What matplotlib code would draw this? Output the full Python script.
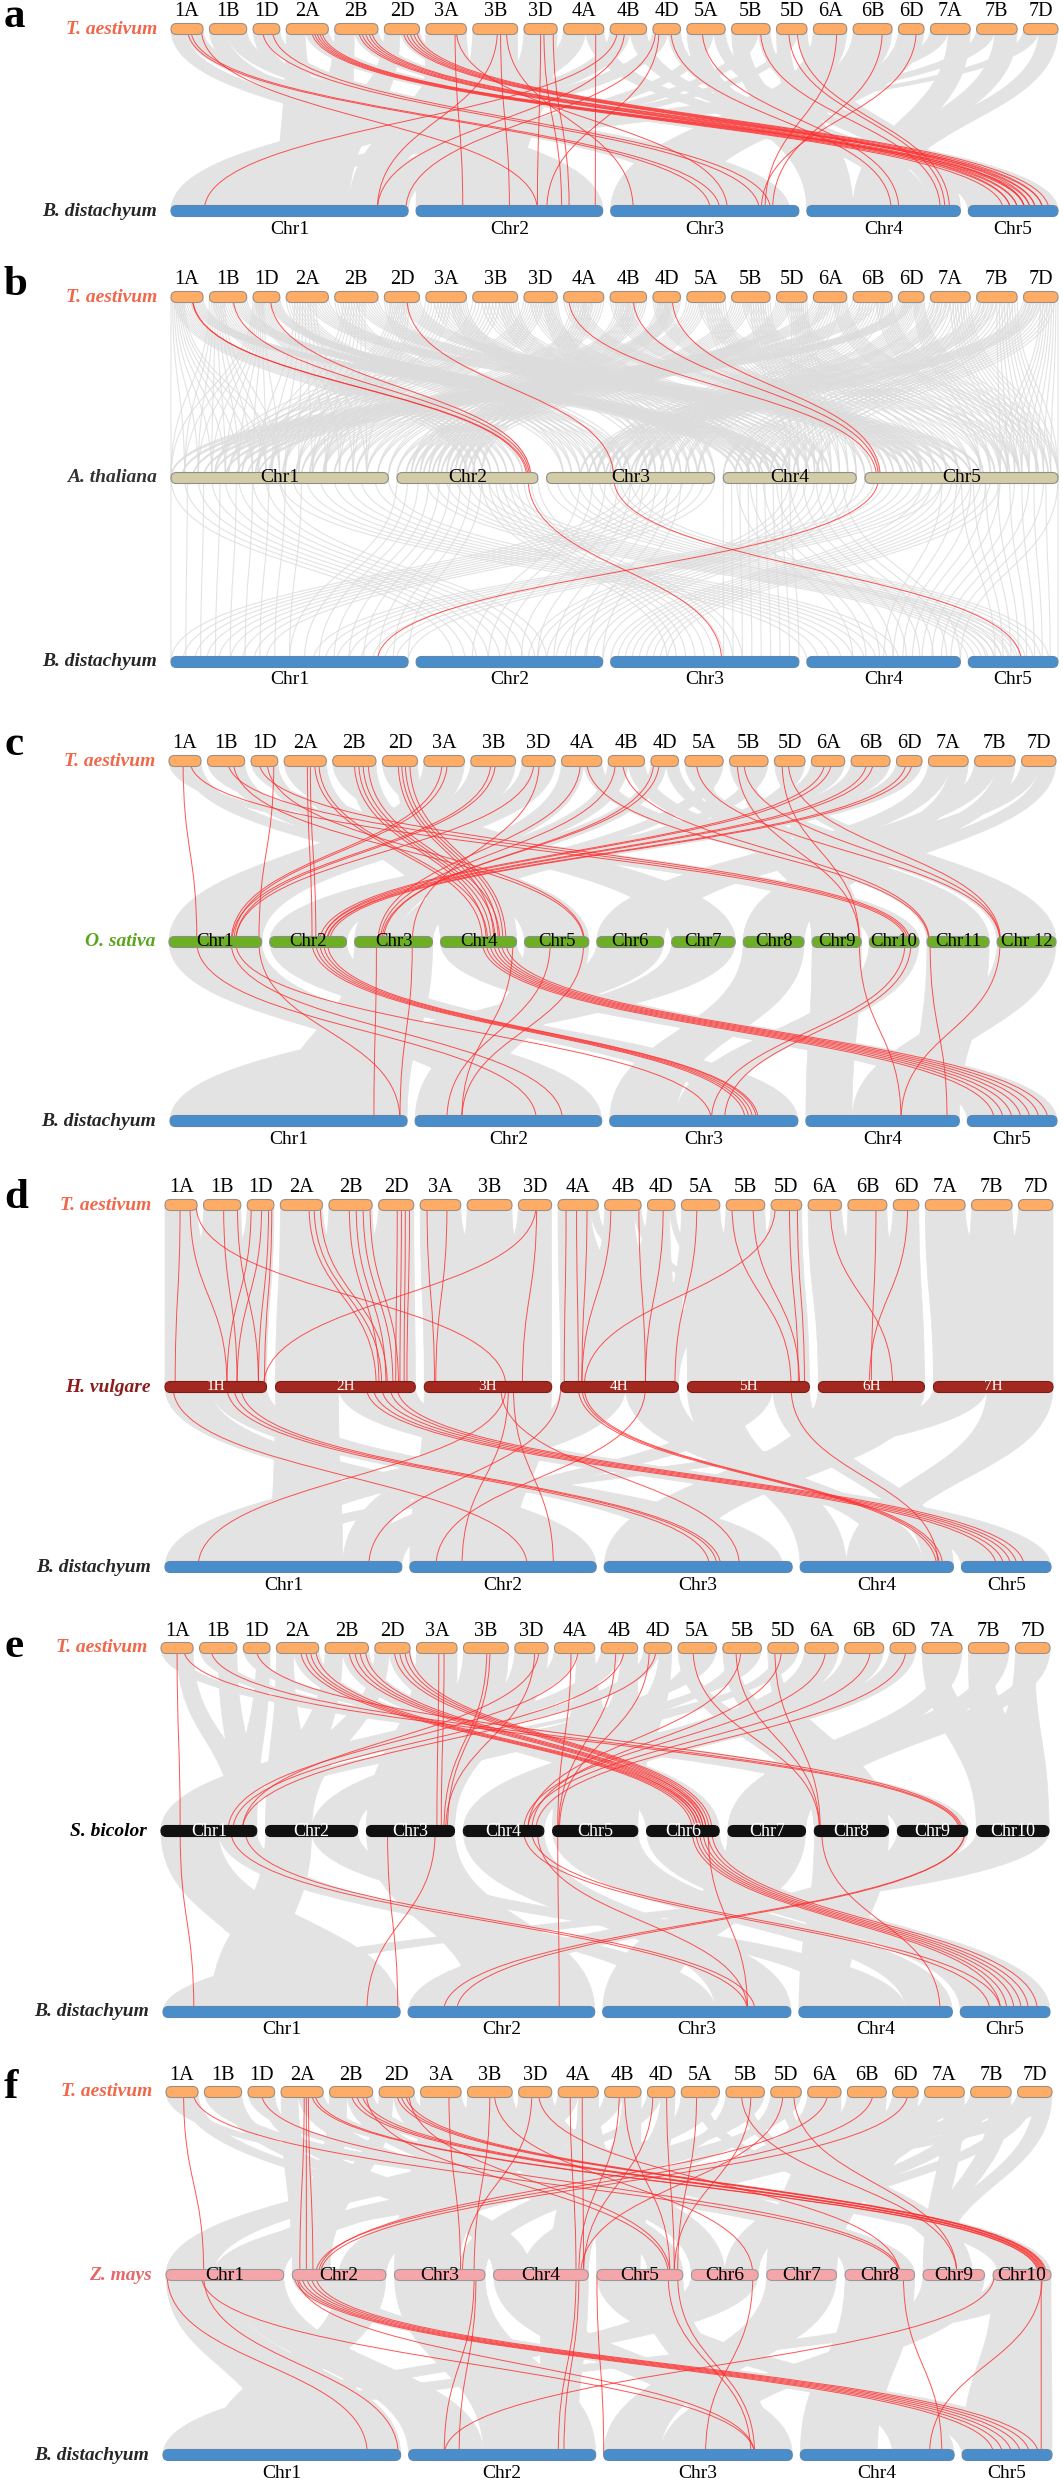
import numpy as np
import matplotlib.pyplot as plt
from matplotlib.path import Path
from matplotlib.patches import PathPatch, FancyBboxPatch

plt.rcParams['font.family'] = ['Liberation Serif', 'DejaVu Serif']

W, H = 1063, 2481

# chromosome names and lengths (Mb)
wheat_chr = ['1A', '1B', '1D', '2A', '2B', '2D', '3A', '3B', '3D', '4A', '4B', '4D',
             '5A', '5B', '5D', '6A', '6B', '6D', '7A', '7B', '7D']
wheat_len = [594, 690, 495, 781, 801, 651, 751, 830, 615, 745, 674, 510,
             710, 713, 566, 618, 721, 474, 737, 751, 639]
bd_chr = ['Chr1', 'Chr2', 'Chr3', 'Chr4', 'Chr5']
bd_len = [75.1, 59.1, 59.6, 48.6, 28.4]
at_chr = ['Chr1', 'Chr2', 'Chr3', 'Chr4', 'Chr5']
at_len = [30.4, 19.7, 23.5, 18.6, 27.0]
os_chr = ['Chr1', 'Chr2', 'Chr3', 'Chr4', 'Chr5', 'Chr6', 'Chr7', 'Chr8', 'Chr9',
          'Chr10', 'Chr11', 'Chr 12']
os_len = [43.3, 35.9, 36.4, 35.5, 30.0, 31.2, 29.7, 28.4, 23.0, 23.2, 29.0, 27.5]
hv_chr = ['1H', '2H', '3H', '4H', '5H', '6H', '7H']
hv_len = [558, 768, 700, 647, 670, 583, 657]
sb_chr = ['Chr1', 'Chr2', 'Chr3', 'Chr4', 'Chr5', 'Chr6', 'Chr7', 'Chr8', 'Chr9', 'Chr10']
sb_len = [80.9, 77.7, 74.4, 68.0, 71.9, 61.3, 65.5, 62.7, 59.4, 61.2]
zm_chr = ['Chr1', 'Chr2', 'Chr3', 'Chr4', 'Chr5', 'Chr6', 'Chr7', 'Chr8', 'Chr9', 'Chr10']
zm_len = [307, 244, 236, 247, 224, 174, 182, 181, 160, 151]

# grey synteny blocks: (chrA, fromA, toA, chrB, fromB, toB); wheat '1' = 1A, 1B, 1D
wb_grey = [('1', 0.0, 0.45, 2, 0.55, 1.0), ('1', 0.45, 1.0, 3, 0.45, 0.95),
           ('2', 0.0, 0.45, 1, 0.45, 0.75), ('2', 0.45, 1.0, 5, 0.0, 1.0),
           ('3', 0.0, 1.0, 2, 0.0, 0.55), ('3', 0.3, 0.6, 1, 0.75, 0.9),
           ('4', 0.0, 0.55, 1, 0.0, 0.4), ('4', 0.55, 1.0, 4, 0.55, 0.8),
           ('5', 0.0, 0.4, 4, 0.0, 0.3), ('5', 0.4, 0.7, 1, 0.8, 1.0), ('5', 0.7, 1.0, 4, 0.8, 1.0),
           ('6', 0.0, 1.0, 3, 0.0, 0.45),
           ('7', 0.0, 0.45, 1, 0.3, 0.45), ('7', 0.45, 1.0, 4, 0.3, 0.55)]
wa_grey = [('1', 0.1, 0.6, 2, 0.5, 0.95), ('1', 0.6, 1.0, 4, 0.1, 0.5), ('1', 0.0, 0.4, 1, 0.0, 0.5),
           ('2', 0.0, 0.5, 3, 0.1, 0.5), ('2', 0.5, 1.0, 5, 0.2, 0.6), ('2', 0.2, 0.7, 1, 0.4, 0.9),
           ('3', 0.0, 0.6, 1, 0.2, 0.7), ('3', 0.6, 1.0, 3, 0.6, 1.0), ('3', 0.2, 0.8, 4, 0.2, 0.8),
           ('4', 0.0, 0.5, 5, 0.0, 0.3), ('4', 0.5, 1.0, 1, 0.6, 1.0), ('4', 0.2, 0.7, 2, 0.1, 0.6),
           ('5', 0.0, 0.5, 2, 0.0, 0.5), ('5', 0.5, 1.0, 4, 0.5, 1.0), ('5', 0.3, 0.8, 5, 0.3, 0.8),
           ('6', 0.0, 0.6, 1, 0.0, 0.4), ('6', 0.6, 1.0, 5, 0.6, 1.0), ('6', 0.2, 0.8, 3, 0.3, 0.9),
           ('7', 0.0, 0.5, 3, 0.2, 0.6), ('7', 0.5, 1.0, 5, 0.7, 1.0), ('7', 0.1, 0.9, 4, 0.0, 0.7)]
ab_grey = [(1, 0.0, 0.5, 2, 0.2, 0.7), (1, 0.5, 1.0, 4, 0.0, 0.6), (1, 0.0, 0.6, 1, 0.0, 0.5),
           (2, 0.0, 0.6, 1, 0.5, 1.0), (2, 0.6, 1.0, 3, 0.3, 0.7), (2, 0.2, 0.8, 5, 0.0, 0.6),
           (3, 0.0, 0.5, 5, 0.2, 0.9), (3, 0.5, 1.0, 1, 0.0, 0.4), (3, 0.2, 0.8, 2, 0.3, 1.0),
           (4, 0.0, 0.5, 3, 0.6, 1.0), (4, 0.5, 1.0, 2, 0.6, 1.0), (4, 0.1, 0.9, 4, 0.3, 1.0),
           (5, 0.0, 0.4, 1, 0.6, 1.0), (5, 0.4, 1.0, 4, 0.5, 1.0), (5, 0.3, 0.7, 3, 0.0, 0.3),
           (5, 0.5, 1.0, 5, 0.3, 1.0)]
wo_grey = [('1', 0.0, 0.45, 10, 0.0, 1.0), ('1', 0.45, 1.0, 5, 0.0, 1.0),
           ('2', 0.0, 0.4, 7, 0.0, 1.0), ('2', 0.4, 1.0, 4, 0.0, 1.0),
           ('3', 0.0, 1.0, 1, 0.0, 1.0),
           ('4', 0.0, 0.55, 3, 0.0, 0.55), ('4', 0.55, 1.0, 11, 0.0, 1.0),
           ('5', 0.0, 0.3, 12, 0.0, 1.0), ('5', 0.3, 0.6, 9, 0.0, 1.0), ('5', 0.6, 1.0, 3, 0.55, 1.0),
           ('6', 0.0, 1.0, 2, 0.0, 1.0),
           ('7', 0.0, 0.55, 6, 0.0, 1.0), ('7', 0.55, 1.0, 8, 0.0, 1.0)]
ob_grey = [(1, 0.0, 1.0, 2, 0.35, 1.0), (5, 0.0, 1.0, 2, 0.0, 0.35), (2, 0.0, 1.0, 3, 0.6, 1.0),
           (3, 0.0, 1.0, 1, 0.45, 1.0), (4, 0.0, 1.0, 5, 0.0, 1.0), (6, 0.0, 1.0, 1, 0.0, 0.2),
           (7, 0.0, 1.0, 1, 0.2, 0.45), (8, 0.0, 1.0, 3, 0.0, 0.35), (9, 0.0, 1.0, 4, 0.0, 0.3),
           (10, 0.0, 1.0, 3, 0.35, 0.6), (11, 0.0, 1.0, 4, 0.7, 1.0), (12, 0.0, 1.0, 4, 0.3, 0.7)]
wh_grey = [('1', 0.0, 1.0, 1, 0.0, 1.0), ('2', 0.0, 1.0, 2, 0.0, 1.0), ('3', 0.0, 1.0, 3, 0.0, 1.0),
           ('4', 0.0, 0.8, 4, 0.0, 1.0), ('4', 0.8, 1.0, 5, 0.85, 1.0),
           ('5', 0.0, 1.0, 5, 0.0, 1.0), ('5', 0.0, 0.15, 4, 0.85, 1.0),
           ('6', 0.0, 1.0, 6, 0.0, 1.0), ('7', 0.0, 1.0, 7, 0.0, 1.0)]
hb_grey = [(1, 0.0, 0.45, 2, 0.55, 1.0), (1, 0.45, 1.0, 3, 0.45, 0.95),
           (2, 0.0, 0.45, 1, 0.45, 0.75), (2, 0.45, 1.0, 5, 0.0, 1.0),
           (3, 0.0, 1.0, 2, 0.0, 0.55), (3, 0.3, 0.6, 1, 0.75, 0.9),
           (4, 0.0, 0.55, 1, 0.0, 0.4), (4, 0.55, 1.0, 4, 0.55, 0.8),
           (5, 0.0, 0.4, 4, 0.0, 0.3), (5, 0.4, 0.7, 1, 0.8, 1.0), (5, 0.7, 1.0, 4, 0.8, 1.0),
           (6, 0.0, 1.0, 3, 0.0, 0.45),
           (7, 0.0, 0.45, 1, 0.3, 0.45), (7, 0.45, 1.0, 4, 0.3, 0.55)]
ws_grey = [('1', 0.0, 0.5, 9, 0.0, 1.0), ('1', 0.5, 1.0, 1, 0.75, 1.0),
           ('2', 0.0, 0.4, 2, 0.0, 0.5), ('2', 0.4, 1.0, 6, 0.0, 1.0),
           ('3', 0.0, 1.0, 3, 0.0, 1.0),
           ('4', 0.0, 0.55, 1, 0.0, 0.6), ('4', 0.55, 1.0, 5, 0.0, 1.0),
           ('5', 0.0, 0.3, 8, 0.0, 1.0), ('5', 0.3, 0.6, 2, 0.5, 1.0), ('5', 0.6, 1.0, 1, 0.6, 0.75),
           ('6', 0.0, 1.0, 4, 0.0, 1.0),
           ('7', 0.0, 0.55, 10, 0.0, 1.0), ('7', 0.55, 1.0, 7, 0.0, 1.0)]
sb_grey = [(1, 0.0, 0.6, 1, 0.45, 1.0), (1, 0.6, 1.0, 3, 0.35, 0.6),
           (2, 0.0, 0.5, 1, 0.2, 0.45), (2, 0.5, 1.0, 4, 0.3, 0.7),
           (3, 0.0, 1.0, 2, 0.35, 1.0), (4, 0.0, 1.0, 3, 0.6, 1.0), (5, 0.0, 1.0, 4, 0.7, 1.0),
           (6, 0.0, 1.0, 5, 0.0, 1.0), (7, 0.0, 1.0, 3, 0.0, 0.35), (8, 0.0, 1.0, 4, 0.0, 0.3),
           (9, 0.0, 1.0, 2, 0.0, 0.35), (10, 0.0, 1.0, 1, 0.0, 0.2)]
wz_grey = [('1', 0.0, 0.5, 8, 0.3, 1.0), ('1', 0.5, 1.0, 4, 0.0, 0.4),
           ('2', 0.0, 0.4, 2, 0.0, 0.4), ('2', 0.4, 1.0, 10, 0.1, 1.0), ('2', 0.4, 1.0, 5, 0.6, 1.0),
           ('3', 0.0, 1.0, 3, 0.0, 0.7), ('3', 0.0, 1.0, 8, 0.0, 0.3), ('3', 0.0, 0.5, 6, 0.0, 0.5),
           ('4', 0.0, 0.5, 1, 0.0, 0.4), ('4', 0.5, 1.0, 4, 0.6, 1.0), ('4', 0.5, 1.0, 5, 0.0, 0.5),
           ('5', 0.0, 0.3, 3, 0.7, 1.0), ('5', 0.3, 0.6, 2, 0.5, 1.0), ('5', 0.3, 0.6, 9, 0.3, 0.8),
           ('5', 0.6, 1.0, 1, 0.6, 1.0),
           ('6', 0.0, 1.0, 4, 0.3, 0.6), ('6', 0.0, 1.0, 7, 0.0, 1.0),
           ('7', 0.0, 0.5, 6, 0.5, 1.0), ('7', 0.5, 1.0, 9, 0.0, 0.3), ('7', 0.0, 1.0, 1, 0.4, 0.6)]
zb_grey = [(1, 0.0, 0.5, 1, 0.45, 1.0), (1, 0.5, 1.0, 2, 0.0, 0.4),
           (2, 0.0, 0.5, 5, 0.0, 1.0), (2, 0.5, 1.0, 1, 0.2, 0.45),
           (3, 0.0, 1.0, 2, 0.4, 1.0), (4, 0.0, 0.5, 3, 0.6, 1.0), (4, 0.5, 1.0, 2, 0.7, 0.9),
           (5, 0.0, 0.5, 4, 0.6, 1.0), (5, 0.5, 1.0, 3, 0.6, 0.9),
           (6, 0.0, 1.0, 1, 0.0, 0.2), (7, 0.0, 1.0, 3, 0.0, 0.3), (8, 0.0, 1.0, 4, 0.0, 0.5),
           (9, 0.0, 1.0, 3, 0.3, 0.6), (10, 0.0, 1.0, 5, 0.0, 1.0), (10, 0.0, 1.0, 1, 0.0, 0.3)]

# highlighted gene pairs: (chrA, posA, chrB, posB), positions as fraction of chromosome
wb_red = [('1A', 0.52, 3, 0.53), ('1A', 0.62, 3, 0.58), ('1A', 0.95, 2, 0.65),
          ('1D', 0.35, 3, 0.79), ('1D', 0.72, 3, 0.85),
          ('2A', 0.60, 5, 0.39), ('2A', 0.66, 5, 0.47), ('2A', 0.72, 5, 0.55), ('2A', 0.78, 5, 0.63),
          ('2A', 0.84, 5, 0.69),
          ('2B', 0.55, 5, 0.47), ('2B', 0.62, 5, 0.55), ('2B', 0.70, 5, 0.63), ('2B', 0.78, 5, 0.75),
          ('2B', 0.85, 5, 0.83),
          ('2D', 0.53, 5, 0.63), ('2D', 0.62, 5, 0.69), ('2D', 0.72, 5, 0.75), ('2D', 0.82, 5, 0.83),
          ('2D', 0.92, 5, 0.90),
          ('3A', 0.72, 2, 0.25), ('3A', 0.75, 3, 0.62),
          ('3B', 0.55, 1, 0.87), ('3B', 0.62, 2, 0.50), ('3B', 0.75, 3, 0.12),
          ('3D', 0.50, 2, 0.65), ('3D', 0.60, 2, 0.78), ('3D', 0.88, 2, 0.82),
          ('4A', 0.80, 2, 0.96),
          ('4B', 0.20, 1, 0.14), ('4B', 0.40, 1, 0.87),
          ('4D', 0.10, 1, 0.99), ('4D', 0.22, 2, 0.70), ('4D', 0.65, 4, 0.55),
          ('5A', 0.40, 4, 0.60), ('5B', 0.75, 4, 0.87),
          ('5D', 0.40, 4, 0.90), ('5D', 0.68, 4, 0.93),
          ('6A', 0.70, 3, 0.82), ('6B', 0.75, 3, 0.86), ('6D', 0.70, 3, 0.80)]
wa_red = [('1A', 0.66, 2, 0.92), ('1A', 0.68, 2, 0.93), ('1B', 0.64, 2, 0.94), ('1D', 0.65, 2, 0.95),
          ('2D', 0.64, 3, 0.40), ('4A', 0.13, 5, 0.06), ('4B', 0.63, 5, 0.07), ('4D', 0.70, 5, 0.08)]
ab_red = [(2, 0.93, 3, 0.59), (3, 0.40, 5, 0.59), (5, 0.07, 1, 0.87)]
wo_red = [('1A', 0.44, 1, 0.30), ('1A', 0.66, 10, 0.74), ('1B', 0.55, 10, 0.78), ('1B', 0.70, 5, 0.92),
          ('1D', 0.30, 10, 0.82), ('1D', 0.60, 5, 0.93), ('1D', 0.85, 1, 0.97),
          ('2A', 0.55, 2, 0.55), ('2A', 0.62, 2, 0.60), ('2A', 0.72, 4, 0.55), ('2A', 0.82, 4, 0.62),
          ('2B', 0.50, 4, 0.60), ('2B', 0.60, 4, 0.66), ('2B', 0.70, 4, 0.72), ('2B', 0.82, 4, 0.78),
          ('2D', 0.45, 4, 0.70), ('2D', 0.55, 4, 0.76), ('2D', 0.65, 4, 0.82), ('2D', 0.78, 4, 0.86),
          ('3A', 0.45, 1, 0.67), ('3A', 0.58, 1, 0.70), ('3B', 0.45, 1, 0.68), ('3B', 0.55, 1, 0.72),
          ('3D', 0.36, 1, 0.72), ('3D', 0.52, 3, 0.74),
          ('4A', 0.47, 3, 0.30), ('4A', 0.63, 11, 0.03), ('4B', 0.20, 3, 0.33), ('4B', 0.40, 11, 0.04),
          ('4D', 0.10, 3, 0.37), ('4D', 0.30, 3, 0.35),
          ('5A', 0.30, 12, 0.05), ('5B', 0.20, 9, 0.96), ('5B', 0.37, 12, 0.05),
          ('5D', 0.25, 9, 0.96), ('5D', 0.45, 12, 0.06),
          ('6A', 0.40, 2, 0.65), ('6A', 0.60, 2, 0.70), ('6B', 0.40, 2, 0.70), ('6B', 0.57, 2, 0.75),
          ('6D', 0.38, 2, 0.74), ('6D', 0.62, 2, 0.78)]
ob_red = [(1, 0.30, 2, 0.65), (1, 0.67, 2, 0.79), (1, 0.72, 3, 0.54), (1, 0.97, 1, 0.97),
          (2, 0.55, 3, 0.72), (2, 0.60, 3, 0.74), (2, 0.65, 3, 0.76), (2, 0.70, 3, 0.78), (2, 0.75, 3, 0.79),
          (3, 0.28, 1, 0.86), (3, 0.74, 1, 0.97),
          (4, 0.55, 5, 0.30), (4, 0.60, 5, 0.40), (4, 0.65, 5, 0.50), (4, 0.70, 5, 0.60),
          (4, 0.75, 5, 0.70), (4, 0.80, 5, 0.80), (4, 0.86, 5, 0.90), (4, 0.95, 2, 0.25),
          (5, 0.40, 2, 0.17), (5, 0.92, 2, 0.25),
          (9, 0.96, 4, 0.62), (10, 0.72, 3, 0.54), (10, 0.84, 3, 0.61), (11, 0.05, 4, 0.92), (12, 0.05, 4, 0.62)]
wh_red = [('1A', 0.47, 1, 0.10), ('1A', 0.78, 1, 0.61), ('1A', 0.97, 3, 0.64),
          ('1B', 0.54, 1, 0.71), ('1B', 0.91, 1, 0.92),
          ('1D', 0.15, 1, 0.61), ('1D', 0.54, 1, 0.71), ('1D', 0.80, 1, 0.92), ('1D', 0.92, 1, 0.98),
          ('2A', 0.68, 2, 0.72), ('2A', 0.80, 2, 0.76), ('2A', 0.95, 2, 0.80),
          ('2B', 0.47, 2, 0.74), ('2B', 0.63, 2, 0.79), ('2B', 0.79, 2, 0.84), ('2B', 0.95, 2, 0.88),
          ('2D', 0.53, 2, 0.86), ('2D', 0.65, 2, 0.89), ('2D', 0.76, 2, 0.92), ('2D', 0.88, 2, 0.94),
          ('3A', 0.17, 3, 0.08), ('3A', 0.66, 3, 0.09),
          ('3D', 0.53, 1, 0.97), ('3D', 0.55, 3, 0.77),
          ('4A', 0.20, 4, 0.03), ('4A', 0.46, 4, 0.15), ('4A', 0.72, 4, 0.18),
          ('4B', 0.17, 4, 0.18), ('4B', 0.94, 4, 0.72), ('4D', 0.57, 4, 0.72),
          ('5A', 0.40, 4, 0.97), ('5D', 0.14, 4, 0.20),
          ('5B', 0.15, 5, 0.85), ('5B', 0.70, 5, 0.92), ('5D', 0.60, 5, 0.91), ('5D', 0.86, 5, 0.96),
          ('6A', 0.66, 6, 0.70), ('6B', 0.72, 6, 0.50), ('6D', 0.56, 6, 0.48)]
hb_red = [(1, 0.08, 2, 0.63), (1, 0.61, 3, 0.56), (1, 0.68, 3, 0.60), (1, 0.75, 3, 0.62),
          (2, 0.65, 5, 0.39), (2, 0.70, 5, 0.47), (2, 0.76, 5, 0.55), (2, 0.82, 5, 0.62), (2, 0.87, 5, 0.70),
          (3, 0.64, 1, 0.14), (3, 0.66, 2, 0.28), (3, 0.70, 2, 0.77), (3, 0.60, 3, 0.72),
          (4, 0.00, 1, 0.86), (4, 0.15, 4, 0.89), (4, 0.18, 4, 0.91), (4, 0.20, 4, 0.93), (4, 0.72, 2, 0.14),
          (5, 0.85, 4, 0.90)]
ws_red = [('1A', 0.50, 1, 0.20), ('1A', 0.70, 9, 0.88), ('1B', 0.30, 9, 0.90), ('1D', 0.48, 9, 0.92),
          ('2A', 0.57, 6, 0.63), ('2A', 0.69, 6, 0.67), ('2A', 0.80, 6, 0.71), ('2A', 0.93, 6, 0.75),
          ('2B', 0.55, 6, 0.70), ('2B', 0.68, 6, 0.74), ('2B', 0.80, 6, 0.78), ('2B', 0.93, 6, 0.82),
          ('2D', 0.55, 6, 0.78), ('2D', 0.70, 6, 0.82), ('2D', 0.85, 6, 0.86), ('2D', 0.98, 6, 0.90),
          ('3A', 0.55, 3, 0.80), ('3A', 0.68, 3, 0.85), ('3B', 0.52, 3, 0.88), ('3B', 0.59, 3, 0.92),
          ('3D', 0.60, 3, 0.90), ('3D', 0.73, 1, 0.85),
          ('4A', 0.41, 5, 0.06), ('4A', 0.59, 1, 0.70), ('4B', 0.40, 5, 0.07), ('4B', 0.63, 1, 0.75),
          ('4D', 0.19, 5, 0.08), ('4D', 0.44, 1, 0.85),
          ('5A', 0.39, 8, 0.07), ('5B', 0.34, 8, 0.07), ('5B', 0.47, 4, 0.80),
          ('5D', 0.23, 8, 0.08), ('5D', 0.45, 4, 0.85),
          ('6A', 0.62, 4, 0.75), ('6B', 0.66, 4, 0.80), ('6D', 0.62, 4, 0.90)]
sb_red = [(1, 0.20, 1, 0.13), (1, 0.73, 3, 0.77), (1, 0.88, 3, 0.81),
          (3, 0.24, 1, 0.99), (3, 0.78, 1, 0.86),
          (4, 0.75, 5, 0.33), (4, 0.85, 5, 0.45), (4, 0.92, 3, 0.77),
          (5, 0.06, 2, 0.81),
          (6, 0.63, 5, 0.45), (6, 0.68, 5, 0.52), (6, 0.73, 5, 0.60), (6, 0.78, 5, 0.68),
          (6, 0.84, 5, 0.76), (6, 0.90, 5, 0.86), (6, 0.85, 3, 0.77),
          (8, 0.10, 4, 0.92), (9, 0.96, 2, 0.19), (9, 0.96, 2, 0.26)]
wz_red = [('1A', 0.55, 1, 0.32), ('1A', 0.85, 8, 0.78), ('1D', 0.50, 8, 0.80),
          ('2A', 0.55, 2, 0.08), ('2A', 0.60, 2, 0.15), ('2A', 0.65, 2, 0.22),
          ('2A', 0.72, 10, 0.78), ('2A', 0.80, 10, 0.80),
          ('2B', 0.50, 10, 0.82), ('2B', 0.62, 10, 0.84), ('2B', 0.75, 10, 0.86), ('2B', 0.85, 5, 0.83),
          ('2D', 0.50, 10, 0.88), ('2D', 0.62, 10, 0.90), ('2D', 0.75, 10, 0.92), ('2D', 0.85, 5, 0.85),
          ('3A', 0.70, 3, 0.73), ('3B', 0.50, 3, 0.88), ('3B', 0.60, 6, 0.92),
          ('3D', 0.40, 3, 0.75), ('3D', 0.60, 8, 0.78),
          ('4A', 0.30, 4, 0.87), ('4A', 0.60, 4, 0.95), ('4B', 0.40, 4, 0.90), ('4B', 0.55, 5, 0.85),
          ('4D', 0.20, 4, 0.95), ('4D', 0.70, 5, 0.90),
          ('5A', 0.40, 5, 0.94), ('5B', 0.40, 9, 0.55), ('5B', 0.65, 5, 0.90),
          ('5D', 0.40, 4, 0.92), ('5D', 0.75, 9, 0.55),
          ('6A', 0.60, 2, 0.28), ('6B', 0.66, 2, 0.25), ('6D', 0.60, 2, 0.30)]
zb_red = [(1, 0.01, 1, 0.86), (1, 0.32, 1, 0.99), (1, 0.30, 3, 0.80),
          (2, 0.02, 5, 0.35), (2, 0.06, 5, 0.45), (2, 0.10, 5, 0.55), (2, 0.15, 5, 0.65),
          (2, 0.20, 5, 0.75), (2, 0.25, 5, 0.85), (2, 0.05, 3, 0.80),
          (3, 0.88, 2, 0.19), (3, 0.90, 2, 0.27),
          (4, 0.87, 2, 0.80), (4, 0.90, 2, 0.83),
          (5, 0.00, 3, 0.00), (5, 0.83, 3, 0.78), (5, 0.94, 3, 0.80),
          (6, 0.92, 3, 0.54), (8, 0.84, 4, 0.92),
          (10, 0.02, 2, 0.19), (10, 0.83, 5, 0.88), (10, 0.85, 4, 0.84)]

genomes = {
    'wheat': dict(names=wheat_chr, lens=wheat_len, gap=6.4, fc='#ffad66', ec='#9c8f86',
                  sp='T. aestivum', spc='#f0674a'),
    'bd': dict(names=bd_chr, lens=bd_len, gap=8, fc='#4a8dcb', ec='#5f87ad',
               sp='B. distachyum', spc='#262626'),
    'at': dict(names=at_chr, lens=at_len, gap=8.7, fc='#d3cca6', ec='#8d8d8d',
               sp='A. thaliana', spc='#333333', tc='black', ts=14),
    'os': dict(names=os_chr, lens=os_len, gap=8, fc='#6caf23', ec='#8d8d8d',
               sp='O. sativa', spc='#5aa51c', tc='black', ts=13.5),
    'hv': dict(names=hv_chr, lens=hv_len, gap=9, fc='#a3281f', ec='#7d1c16',
               sp='H. vulgare', spc='#8b1c1c', tc='white', ts=11),
    'sb': dict(names=sb_chr, lens=sb_len, gap=8.8, fc='#111111', ec='#111111',
               sp='S. bicolor', spc='black', tc='white', ts=13),
    'zm': dict(names=zm_chr, lens=zm_len, gap=8.6, fc='#f4a6aa', ec='#999999',
               sp='Z. mays', spc='#e8666a', tc='black', ts=14),
}

# letter, letter baseline, rows (genome, y, x0, x1), pairs, grey drawn as 'band' or 'lines'
panels = [
    ('a', 27, [('wheat', 29, 171, 1058), ('bd', 211, 171, 1058)],
     [(wb_grey, wb_red)], 'band'),
    ('b', 295, [('wheat', 297, 171, 1058), ('at', 478, 171, 1058), ('bd', 662, 171, 1058)],
     [(wa_grey, wa_red), (ab_grey, ab_red)], 'lines'),
    ('c', 755, [('wheat', 761, 169, 1056), ('os', 942, 169, 1056), ('bd', 1121, 170, 1057)],
     [(wo_grey, wo_red), (ob_grey, ob_red)], 'band'),
    ('d', 1208, [('wheat', 1205, 165, 1053), ('hv', 1387, 165, 1053), ('bd', 1567, 165, 1051)],
     [(wh_grey, wh_red), (hb_grey, hb_red)], 'band'),
    ('e', 1657, [('wheat', 1648, 161, 1050), ('sb', 1831, 161, 1049), ('bd', 2012, 163, 1050)],
     [(ws_grey, ws_red), (sb_grey, sb_red)], 'band'),
    ('f', 2098, [('wheat', 2092, 166, 1052), ('zm', 2275, 166, 1051), ('bd', 2455, 163, 1052)],
     [(wz_grey, wz_red), (zb_grey, zb_red)], 'band'),
]

BAR_H = 11


def layout(key, x0, x1):
    g = genomes[key]
    n = len(g['lens'])
    scale = (x1 - x0 - g['gap'] * (n - 1)) / sum(g['lens'])
    pos = {}
    x = x0
    for name, ln in zip(g['names'], g['lens']):
        pos[name] = (x, ln * scale)
        x += ln * scale + g['gap']
    return pos


def names_of(key, c):
    if key == 'wheat':
        return [c + s for s in 'ABD'] if len(c) == 1 else [c]
    return [genomes[key]['names'][c - 1]]


def curve(xa, ya, xb, yb):
    ym = (ya + yb) / 2
    return [(xa, ya), (xa, ym), (xb, ym), (xb, yb)]


def band(ax, xa0, xa1, ya, xb0, xb1, yb, mode):
    if mode == 'lines':
        # a loose block: drawn as a spray of thin links across its span
        for t in np.linspace(0, 1, 9):
            v = curve(xa0 + t * (xa1 - xa0), ya, xb0 + t * (xb1 - xb0), yb)
            ax.add_patch(PathPatch(Path(v, [1, 4, 4, 4]), fc='none', ec='#dcdcdc',
                                   lw=0.8, alpha=0.8, zorder=1))
        return
    ym = (ya + yb) / 2
    verts = [(xa0, ya), (xa0, ym), (xb0, ym), (xb0, yb), (xb1, yb), (xb1, ym), (xa1, ym), (xa1, ya), (xa0, ya)]
    codes = [Path.MOVETO, Path.CURVE4, Path.CURVE4, Path.CURVE4, Path.LINETO,
             Path.CURVE4, Path.CURVE4, Path.CURVE4, Path.CLOSEPOLY]
    ax.add_patch(PathPatch(Path(verts, codes), fc='#e3e3e3', ec='#e3e3e3', lw=0.5, zorder=1))


def link(ax, xa, ya, xb, yb):
    v = curve(xa, ya, xb, yb)
    ax.add_patch(PathPatch(Path(v, [1, 4, 4, 4]), fc='none', ec='#ff2b2b', lw=0.7, alpha=0.8, zorder=2))


fig = plt.figure(figsize=(W / 100, H / 100), dpi=100)
ax = fig.add_axes([0, 0, 1, 1])
ax.set_xlim(0, W)
ax.set_ylim(H, 0)
ax.axis('off')

for letter, base, rows, pairs, mode in panels:
    ax.text(4, base, letter, fontsize=31, fontweight='bold', va='baseline', ha='left')
    pos = [layout(k, x0, x1) for k, y, x0, x1 in rows]

    for i, (grey, red) in enumerate(pairs):
        ka, ya = rows[i][0], rows[i][1]
        kb, yb = rows[i + 1][0], rows[i + 1][1]
        for ca, a0, a1, cb, b0, b1 in grey:
            for na in names_of(ka, ca):
                for nb in names_of(kb, cb):
                    sa, wa = pos[i][na]
                    sb, wb = pos[i + 1][nb]
                    band(ax, sa + a0 * wa, sa + a1 * wa, ya, sb + b0 * wb, sb + b1 * wb, yb, mode)
        for ca, fa, cb, fb in red:
            sa, wa = pos[i][names_of(ka, ca)[0]]
            sb, wb = pos[i + 1][names_of(kb, cb)[0]]
            link(ax, sa + fa * wa, ya, sb + fb * wb, yb)

    for r, (k, y, x0, x1) in enumerate(rows):
        g = genomes[k]
        for name in g['names']:
            s, w = pos[r][name]
            ax.add_patch(FancyBboxPatch((s, y - BAR_H / 2), w, BAR_H,
                                        boxstyle='round,pad=0,rounding_size=5.5',
                                        fc=g['fc'], ec=g['ec'], lw=0.8, zorder=3))
            if r == 0:
                ax.text(s + w / 2, y - 17, name, fontsize=14.5, ha='center', va='center', zorder=4)
            elif r == len(rows) - 1:
                ax.text(s + w / 2, y + 18, name, fontsize=14, ha='center', va='center', zorder=4)
            else:
                ax.text(s + w / 2, y, name, fontsize=g['ts'], color=g['tc'],
                        ha='center', va='center', zorder=4)
        ax.text(x0 - 14, y, g['sp'], fontsize=14, fontweight='bold', fontstyle='italic',
                color=g['spc'], ha='right', va='center', zorder=4)

fig.savefig('out.png', dpi=100)
